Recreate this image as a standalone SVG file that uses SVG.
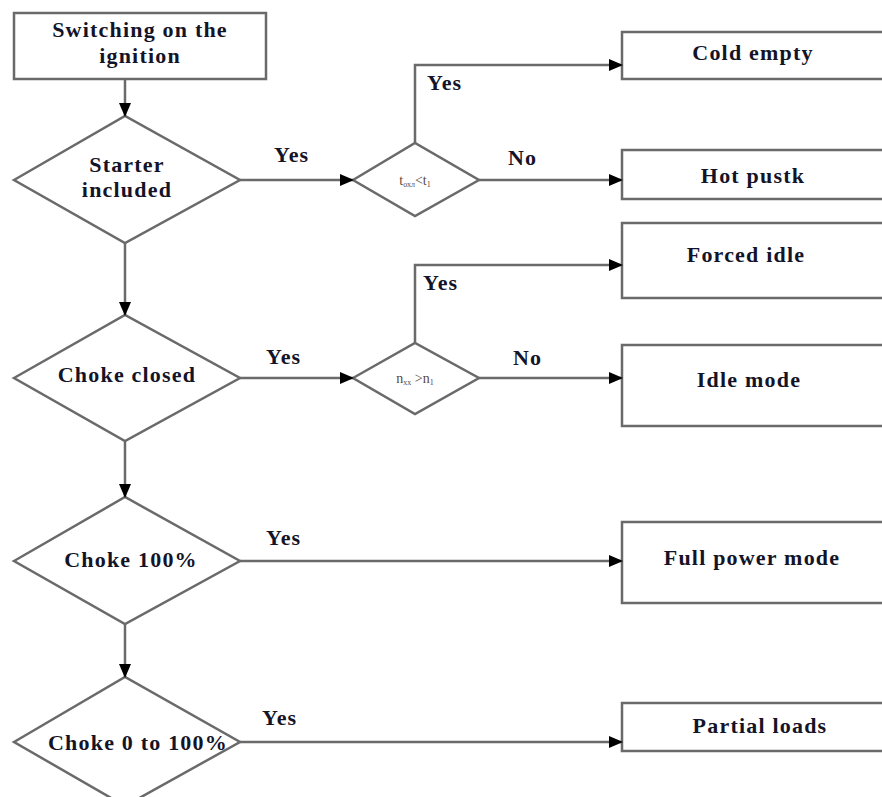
<svg xmlns="http://www.w3.org/2000/svg" width="882" height="797" viewBox="0 0 882 797">
<defs>
<marker id="ah" markerUnits="userSpaceOnUse" markerWidth="14" markerHeight="12" refX="13" refY="6" orient="auto">
<path d="M0,0 L14,6 L0,12 z" fill="#000"/>
</marker>
<style>
.shape{fill:#fff;stroke:#6a6a6a;stroke-width:2.5}
.conn{fill:none;stroke:#6a6a6a;stroke-width:2.5}
.t{font-family:"Liberation Serif","DejaVu Serif",serif;font-weight:bold;font-size:22px;letter-spacing:1.2px;fill:#141428;text-anchor:middle}
.lbl{font-family:"Liberation Serif","DejaVu Serif",serif;font-weight:bold;font-size:22px;letter-spacing:1.2px;fill:#141428}
.s{font-family:"Liberation Serif","DejaVu Serif",serif;font-size:14px;fill:#5a4a40;text-anchor:middle}
</style>
</defs>
<rect width="882" height="797" fill="#fff"/>

<g id="start">
<rect class="shape" x="14" y="13" width="252" height="66"/>
<text class="t" x="140" y="37">Switching on the</text>
<text class="t" x="140" y="63">ignition</text>
</g>

<g id="starter">
<polygon class="shape" points="14,180 125,116 240,180 125,243"/>
<text class="t" x="127" y="172">Starter</text>
<text class="t" x="127" y="197">included</text>
</g>

<g id="tcheck">
<polygon class="shape" points="353,180 415,143 479,180 415,216"/>
<text class="s" x="415" y="185">t<tspan font-size="8" dy="2">охл</tspan><tspan dy="-2">&lt;t</tspan><tspan font-size="8" dy="2">1</tspan></text>
</g>

<g id="cold">
<rect class="shape" x="622" y="32" width="270" height="47"/>
<text class="t" x="753" y="60">Cold empty</text>
</g>

<g id="hot">
<rect class="shape" x="622" y="150" width="270" height="49"/>
<text class="t" x="753" y="183">Hot pustk</text>
</g>

<g id="choke_closed">
<polygon class="shape" points="14,378 125,315 240,378 125,441"/>
<text class="t" x="127" y="382">Choke closed</text>
</g>

<g id="ncheck">
<polygon class="shape" points="353,378 415,343 479,378 415,414"/>
<text class="s" x="415" y="383">n<tspan font-size="8" dy="2">хх</tspan><tspan dy="-2"> &gt;n</tspan><tspan font-size="8" dy="2">1</tspan></text>
</g>

<g id="forced">
<rect class="shape" x="622" y="223" width="270" height="75"/>
<text class="t" x="746" y="262">Forced idle</text>
</g>

<g id="idle">
<rect class="shape" x="622" y="345" width="270" height="81"/>
<text class="t" x="749" y="387">Idle mode</text>
</g>

<g id="choke100">
<polygon class="shape" points="14,561 125,497 240,561 125,624"/>
<text class="t" x="131" y="567">Choke 100%</text>
</g>

<g id="full">
<rect class="shape" x="622" y="522" width="270" height="81"/>
<text class="t" x="752" y="565">Full power mode</text>
</g>

<g id="choke0">
<polygon class="shape" points="14,742 125,677 240,742 125,806"/>
<text class="t" x="138" y="750">Choke 0 to 100%</text>
</g>

<g id="partial">
<rect class="shape" x="622" y="703" width="270" height="48"/>
<text class="t" x="760" y="733">Partial loads</text>
</g>

<g id="connectors">
<line class="conn" x1="125" y1="79" x2="125" y2="116" marker-end="url(#ah)"/>
<line class="conn" x1="240" y1="180" x2="353" y2="180" marker-end="url(#ah)"/>
<polyline class="conn" points="415,143 415,65 622,65" marker-end="url(#ah)"/>
<line class="conn" x1="479" y1="180" x2="622" y2="180" marker-end="url(#ah)"/>
<line class="conn" x1="125" y1="243" x2="125" y2="315" marker-end="url(#ah)"/>
<line class="conn" x1="240" y1="378" x2="353" y2="378" marker-end="url(#ah)"/>
<polyline class="conn" points="415,343 415,265 622,265" marker-end="url(#ah)"/>
<line class="conn" x1="479" y1="378" x2="622" y2="378" marker-end="url(#ah)"/>
<line class="conn" x1="125" y1="441" x2="125" y2="497" marker-end="url(#ah)"/>
<line class="conn" x1="240" y1="561" x2="622" y2="561" marker-end="url(#ah)"/>
<line class="conn" x1="125" y1="624" x2="125" y2="677" marker-end="url(#ah)"/>
<line class="conn" x1="240" y1="742" x2="622" y2="742" marker-end="url(#ah)"/>
<text class="lbl" x="274" y="162">Yes</text>
<text class="lbl" x="427" y="90">Yes</text>
<text class="lbl" x="508" y="165">No</text>
<text class="lbl" x="266" y="364">Yes</text>
<text class="lbl" x="423" y="290">Yes</text>
<text class="lbl" x="513" y="365">No</text>
<text class="lbl" x="266" y="545">Yes</text>
<text class="lbl" x="262" y="725">Yes</text>
</g>
</svg>
